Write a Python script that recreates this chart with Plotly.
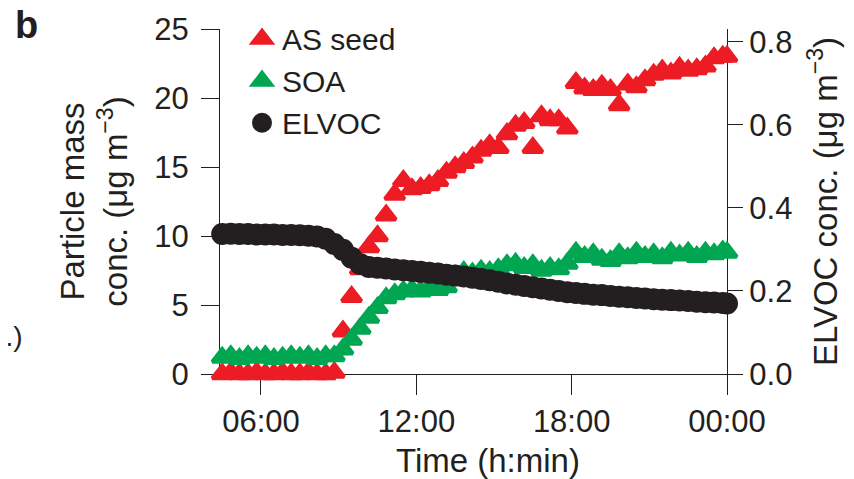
import plotly.graph_objects as go
from datetime import datetime, timedelta

# ---------------- data ----------------
TIME_LABELS = [
    "04:30", "04:50", "05:10", "05:30", "05:50", "06:10", "06:30", "06:50",
    "07:10", "07:30", "07:50", "08:10", "08:30", "08:50", "09:10", "09:30",
    "09:50", "10:10", "10:30", "10:50", "11:10", "11:30", "11:50", "12:10",
    "12:30", "12:50", "13:10", "13:30", "13:50", "14:10", "14:30", "14:50",
    "15:10", "15:30", "15:50", "16:10", "16:30", "16:50", "17:10", "17:30",
    "17:50", "18:10", "18:30", "18:50", "19:10", "19:30", "19:50", "20:10",
    "20:30", "20:50", "21:10", "21:30", "21:50", "22:10", "22:30", "22:50",
    "23:10", "23:30", "23:50", "00:00",
]

AS_SEED = [
    0.0, 0.1, 0.0, 0.0, 0.1, 0.0, 0.0, 0.1, 0.0, 0.0, 0.1, 0.0, 0.0, 0.1,
    3.1, 5.6, 7.6, 9.2, 10.0, 11.5, 13.0, 14.0, 13.4, 13.5, 13.7, 14.0,
    14.6, 15.0, 15.3, 15.7, 16.2, 16.6, 16.4, 17.4, 18.0, 18.2, 16.4, 18.7,
    18.4, 18.4, 17.8, 21.1, 20.7, 20.6, 20.9, 20.6, 19.5, 21.0, 20.8, 21.3,
    21.7, 22.0, 21.8, 22.2, 22.0, 22.1, 22.3, 22.9, 23.0, 23.0,
]

SOA = [
    1.2, 1.3, 1.1, 1.3, 1.2, 1.3, 1.1, 1.2, 1.3, 1.2, 1.3, 1.1, 1.3, 1.3,
    1.8, 2.5, 3.3, 4.1, 4.8, 5.5, 5.8, 6.0, 6.1, 6.0, 6.2, 6.1, 6.3, 7.1,
    7.4, 7.3, 7.5, 7.4, 7.6, 7.9, 8.0, 7.7, 7.9, 7.5, 7.7, 7.6, 8.0, 8.8,
    8.5, 8.7, 8.3, 8.2, 8.7, 8.4, 8.8, 8.5, 8.7, 8.4, 8.8, 8.6, 8.8, 8.5,
    8.8, 8.7, 8.9, 8.8,
]

ELVOC = [
    0.337, 0.338, 0.337, 0.337, 0.336, 0.336, 0.336, 0.335, 0.335, 0.334,
    0.333, 0.331, 0.326, 0.313, 0.299, 0.280, 0.265, 0.258, 0.256, 0.254,
    0.252, 0.250, 0.248, 0.246, 0.244, 0.242, 0.239, 0.237, 0.235, 0.232,
    0.229, 0.226, 0.222, 0.218, 0.215, 0.212, 0.209, 0.206, 0.203, 0.200,
    0.197, 0.195, 0.193, 0.191, 0.190, 0.188, 0.186, 0.185, 0.183, 0.182,
    0.180, 0.179, 0.178, 0.177, 0.176, 0.174, 0.173, 0.172, 0.171, 0.170,
]

X_TICK_LABELS = ["06:00", "12:00", "18:00", "00:00"]
Y_LEFT_TICKS = [0, 5, 10, 15, 20, 25]
Y_RIGHT_TICKS = [0.0, 0.2, 0.4, 0.6, 0.8]
X_RANGE_LABELS = ["04:25", "00:00"]

# ---------------- helpers ----------------
DAY0 = datetime(2015, 1, 1)


def to_times(labels):
    out, day, prev = [], 0, None
    for s in labels:
        h, m = map(int, s.split(":"))
        t = DAY0 + timedelta(days=day, hours=h, minutes=m)
        if prev is not None and t < prev:
            day += 1
            t += timedelta(days=1)
        out.append(t)
        prev = t
    return out


times = to_times(TIME_LABELS)
xticks = to_times(X_TICK_LABELS)
xrange_ = to_times(X_RANGE_LABELS)

RED = "#ED1C24"
GREEN = "#00A651"
BLACK = "#231F20"
FONT = "Liberation Sans, Arial, sans-serif"
FS = 31      # tick labels
FT = 33      # axis titles
FL = 30      # legend

fig = go.Figure()
fig.add_trace(go.Scatter(
    x=times, y=AS_SEED, name="AS seed", mode="markers", cliponaxis=False,
    marker=dict(symbol="triangle-up", size=17, color=RED,
                line=dict(color=RED, width=4)),
))
fig.add_trace(go.Scatter(
    x=times, y=SOA, name="SOA", mode="markers", cliponaxis=False,
    marker=dict(symbol="triangle-up", size=17, color=GREEN,
                line=dict(color=GREEN, width=4)),
))
fig.add_trace(go.Scatter(
    x=times, y=ELVOC, name="ELVOC", mode="markers", cliponaxis=False,
    yaxis="y2",
    marker=dict(symbol="circle", size=18, color=BLACK,
                line=dict(color=BLACK, width=4)),
))

axis_common = dict(
    showline=True, linecolor=BLACK, linewidth=1.2, showgrid=False,
    zeroline=False, ticks="outside", tickcolor=BLACK, tickwidth=1.2,
    tickfont=dict(family=FONT, size=FS, color=BLACK), layer="below traces",
)

fig.update_layout(
    width=846, height=471,
    margin=dict(l=212, r=127, t=21, b=105, autoexpand=False),
    paper_bgcolor="white", plot_bgcolor="white",
    font=dict(family=FONT, size=FS, color=BLACK),
    xaxis=dict(
        **axis_common, type="date", range=xrange_, ticklen=20,
        tickvals=xticks, ticktext=X_TICK_LABELS,
    ),
    yaxis=dict(
        **axis_common, range=[0, 25], ticklen=18, tickvals=Y_LEFT_TICKS,
        ticklabelstandoff=6,
        title=dict(text="Particle mass<br>conc. (μg m<sup>−3</sup>)",
                   standoff=16,
                   font=dict(family=FONT, size=FT, color=BLACK)),
    ),
    yaxis2=dict(
        **axis_common, range=[0, 0.831], ticklen=15, tickvals=Y_RIGHT_TICKS,
        ticktext=["%.1f" % v for v in Y_RIGHT_TICKS],
        overlaying="y", side="right",
        title=dict(text="ELVOC conc. (μg m<sup>−3</sup>)", standoff=22,
                   font=dict(family=FONT, size=FT, color=BLACK)),
    ),
    legend=dict(
        x=0.0434, y=1.047, xanchor="left", yanchor="top",
        bgcolor="rgba(0,0,0,0)", itemsizing="trace",
        font=dict(family=FONT, size=FL, color=BLACK),
        tracegroupgap=0,
    ),
    showlegend=True,
    annotations=[
        # x-axis title (placed to match the reference's offset position)
        dict(text="Time (h:min)", xref="paper", yref="paper",
             x=(488 - 220) / 507, y=(374 - 461) / 345,
             xanchor="center", yanchor="middle", showarrow=False,
             font=dict(family=FONT, size=FT, color=BLACK)),
        dict(text="<b>b</b>", xref="paper", yref="paper",
             x=(13 - 220) / 507, y=(374 - 25) / 345,
             xanchor="left", yanchor="middle", showarrow=False,
             font=dict(family=FONT, size=38, color=BLACK)),
        dict(text="o.)", xref="paper", yref="paper",
             x=(25 - 220) / 507, y=(374 - 336) / 345,
             xanchor="right", yanchor="middle", showarrow=False,
             font=dict(family=FONT, size=28, color=BLACK)),
    ],
)

fig.write_html("out.html")
